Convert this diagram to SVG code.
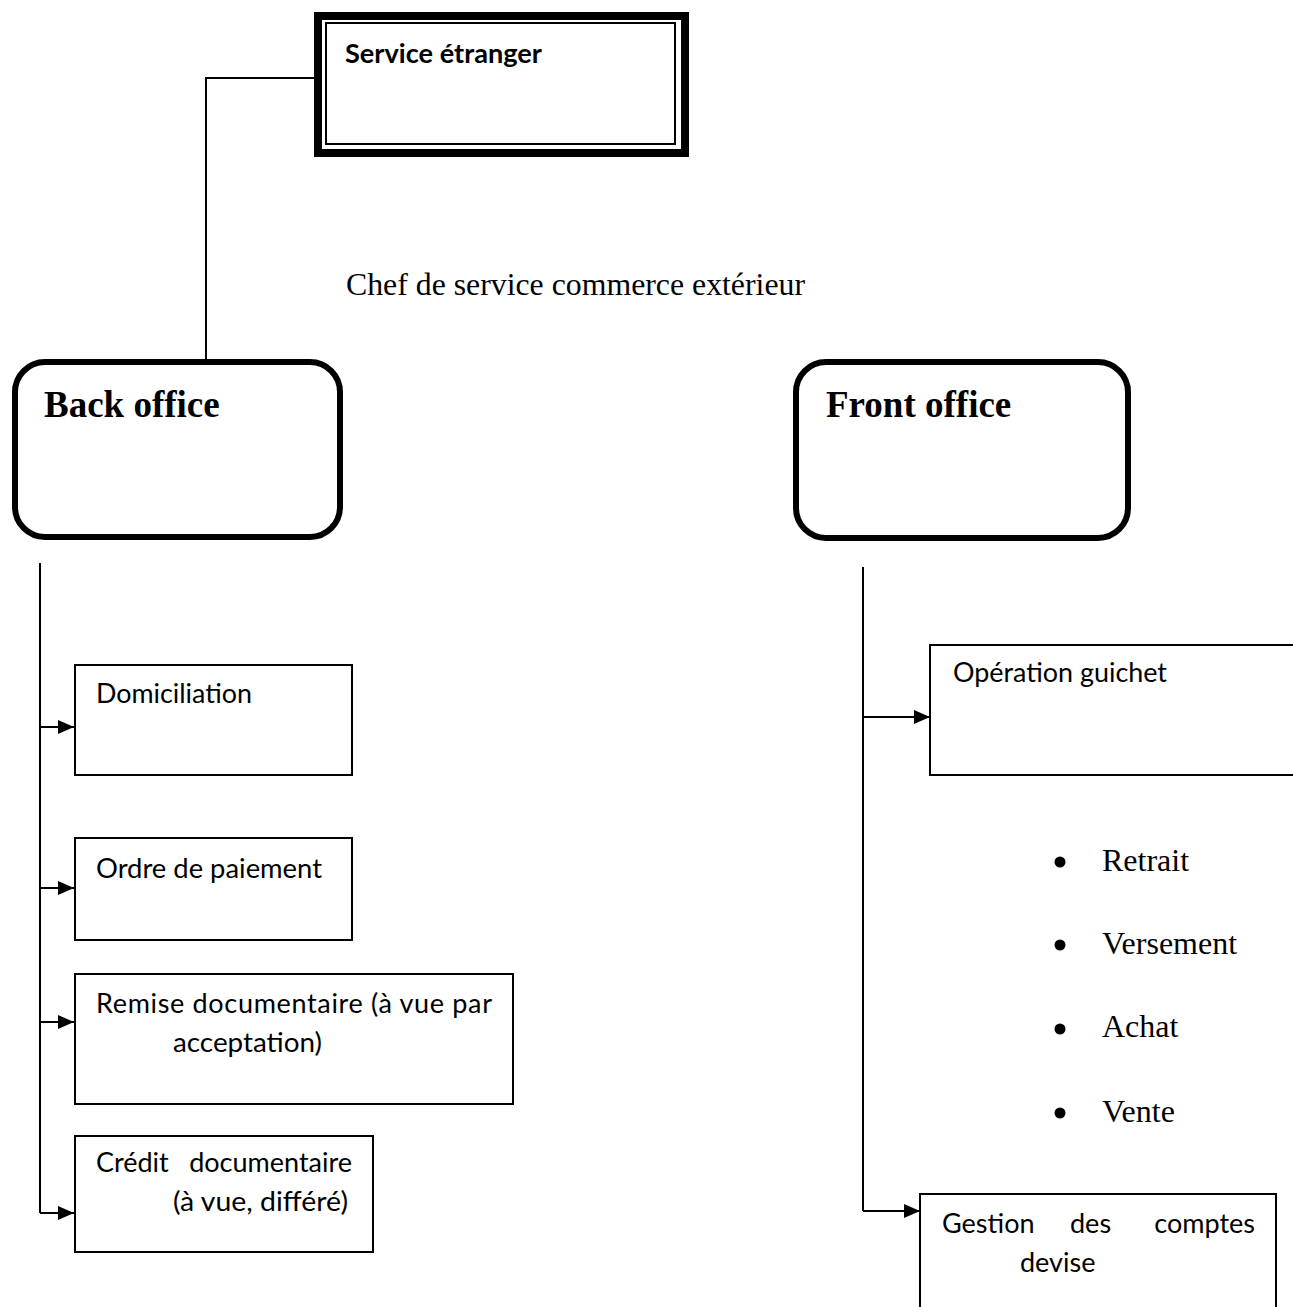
<svg xmlns="http://www.w3.org/2000/svg" width="1293" height="1307" viewBox="0 0 1293 1307">
<style>
.bg{fill:#fff}
.box{fill:#fff;stroke:#000;stroke-width:2}
.rbox{fill:#fff;stroke:#000;stroke-width:6}
.ln{fill:none;stroke:#000;stroke-width:2}
.cal{font-family:Lato,"Open Sans","Liberation Sans",sans-serif;font-size:27px;fill:#000}
.tms{font-family:"Liberation Serif","Times New Roman",serif;font-size:32px;fill:#000}
.tmb{font-family:"Liberation Serif","Times New Roman",serif;font-size:37px;font-weight:bold;fill:#000}
</style>
<defs>
<marker id="arr" markerUnits="userSpaceOnUse" markerWidth="18" markerHeight="16" refX="17" refY="8" orient="auto">
<path d="M1,1 L17,8 L1,15 Z" fill="#000"/>
</marker>
</defs>
<rect class="bg" x="0" y="0" width="1293" height="1307"/>

<g id="connectors">
<path class="ln" d="M314,78 H206 V359" stroke-width="1.5"/>
<path class="ln" d="M40,563 V1213"/>
<path class="ln" d="M40,727 H74" marker-end="url(#arr)"/>
<path class="ln" d="M40,888 H74" marker-end="url(#arr)"/>
<path class="ln" d="M40,1022 H74" marker-end="url(#arr)"/>
<path class="ln" d="M40,1213 H74" marker-end="url(#arr)"/>
<path class="ln" d="M863,567 V1211"/>
<path class="ln" d="M863,717 H930" marker-end="url(#arr)"/>
<path class="ln" d="M863,1211 H920" marker-end="url(#arr)"/>
</g>

<g id="service-etranger">
<rect x="318" y="16" width="367" height="137" fill="#fff" stroke="#000" stroke-width="8"/>
<rect x="326" y="23" width="349" height="121" fill="none" stroke="#000" stroke-width="2"/>
<text class="cal" x="345" y="63" font-weight="bold" textLength="197" lengthAdjust="spacingAndGlyphs">Service étranger</text>
</g>

<g id="chef-label">
<text class="tms" x="346" y="295" textLength="459" lengthAdjust="spacingAndGlyphs">Chef de service commerce extérieur</text>
</g>

<g id="back-office">
<rect class="rbox" x="15" y="362" width="325" height="175" rx="30" ry="30"/>
<text class="tmb" x="44" y="417">Back office</text>
</g>

<g id="front-office">
<rect class="rbox" x="796" y="362" width="332" height="176" rx="30" ry="30"/>
<text class="tmb" x="826" y="417">Front office</text>
</g>

<g id="domiciliation">
<rect class="box" x="75" y="665" width="277" height="110"/>
<text class="cal" x="96" y="703" textLength="156" lengthAdjust="spacingAndGlyphs">Domiciliation</text>
</g>

<g id="ordre-paiement">
<rect class="box" x="75" y="838" width="277" height="102"/>
<text class="cal" x="96" y="878" textLength="226" lengthAdjust="spacingAndGlyphs">Ordre de paiement</text>
</g>

<g id="remise-documentaire">
<rect class="box" x="75" y="974" width="438" height="130"/>
<text class="cal" x="96" y="1013" textLength="396" lengthAdjust="spacing">Remise documentaire (à vue par</text>
<text class="cal" x="173" y="1052" textLength="149" lengthAdjust="spacingAndGlyphs">acceptation)</text>
</g>

<g id="credit-documentaire">
<rect class="box" x="75" y="1136" width="298" height="116"/>
<text class="cal" x="96" y="1172">Crédit</text>
<text class="cal" x="352" y="1172" text-anchor="end">documentaire</text>
<text class="cal" x="173" y="1211" textLength="175" lengthAdjust="spacingAndGlyphs">(à vue, différé)</text>
</g>

<g id="operation-guichet">
<rect class="box" x="930" y="645" width="400" height="130"/>
<text class="cal" x="953" y="682" textLength="214" lengthAdjust="spacingAndGlyphs">Opération guichet</text>
</g>

<g id="operations-list">
<circle cx="1060" cy="862" r="5.5" fill="#000"/>
<text class="tms" x="1102" y="871">Retrait</text>
<circle cx="1060" cy="945" r="5.5" fill="#000"/>
<text class="tms" x="1102" y="954">Versement</text>
<circle cx="1060" cy="1029" r="5.5" fill="#000"/>
<text class="tms" x="1102" y="1037">Achat</text>
<circle cx="1060" cy="1113" r="5.5" fill="#000"/>
<text class="tms" x="1102" y="1122">Vente</text>
</g>

<g id="gestion-comptes">
<rect class="box" x="920" y="1194" width="356" height="200"/>
<text class="cal" x="942" y="1233">Gestion</text>
<text class="cal" x="1070" y="1233">des</text>
<text class="cal" x="1255" y="1233" text-anchor="end">comptes</text>
<text class="cal" x="1020" y="1272">devise</text>
</g>
</svg>
